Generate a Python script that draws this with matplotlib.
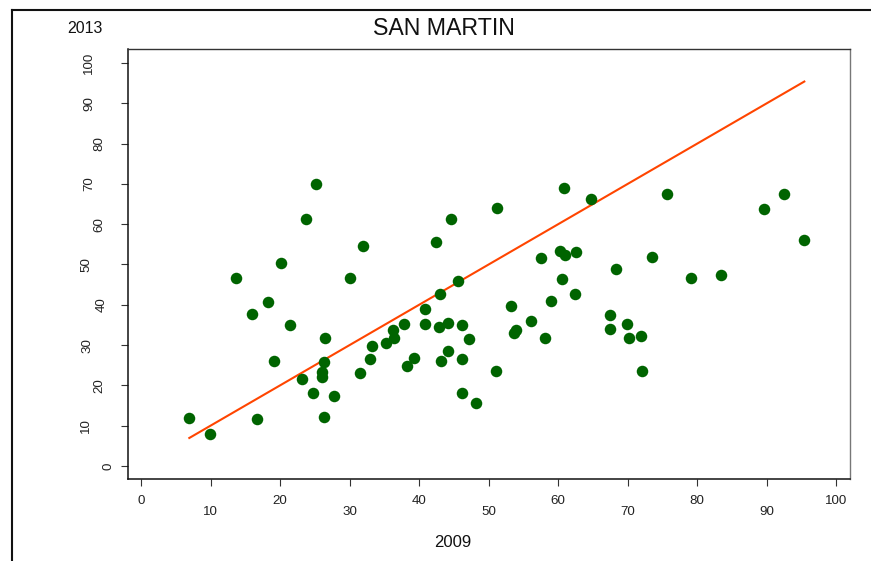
import matplotlib
matplotlib.use("Agg")
import matplotlib.pyplot as plt
from matplotlib.lines import Line2D
import numpy as np

plt.rcParams['font.family'] = ['Liberation Sans', 'DejaVu Sans']

# Data (x = 2009, y = 2013)
x2009 = [6.95, 9.93, 13.67, 15.92, 18.3, 16.7, 19.1, 20.2, 21.5, 23.8,
         25.1, 23.2, 24.8, 26.4, 26.3, 26.0, 26.1, 26.3, 27.7, 30.0,
         32.0, 31.5, 32.9, 33.2, 35.2, 36.3, 36.45, 37.8, 38.2, 39.2,
         40.8, 40.8, 42.5, 43.0, 42.9, 44.2, 43.1, 44.2, 44.6, 45.6,
         46.2, 47.2, 46.2, 46.2, 48.2, 51.2, 51.1, 53.2, 53.6, 53.95,
         56.1, 58.1, 58.95, 57.5, 60.6, 60.3, 60.95, 62.6, 62.4, 60.9,
         64.7, 68.35, 67.5, 67.5, 69.9, 70.2, 71.85, 72.1, 73.5, 75.6,
         79.1, 83.45, 89.6, 92.5, 95.4]
y2013 = [11.9, 7.94, 46.65, 37.8, 40.8, 11.66, 26.1, 50.3, 35.1, 61.3,
         70.0, 21.7, 18.2, 31.8, 25.8, 23.3, 22.2, 12.2, 17.4, 46.65,
         54.6, 23.1, 26.5, 29.7, 30.4, 33.8, 31.8, 35.2, 24.7, 26.8,
         39.0, 35.3, 55.5, 42.8, 34.5, 35.4, 26.1, 28.5, 61.2, 45.8,
         35.1, 31.6, 26.5, 18.1, 15.6, 63.9, 23.6, 39.8, 33.0, 33.7,
         36.1, 31.8, 41.0, 51.7, 46.3, 53.35, 52.3, 53.1, 42.6, 69.0,
         66.25, 48.9, 37.5, 34.0, 35.2, 31.8, 32.3, 23.6, 51.9, 67.4,
         46.65, 47.3, 63.8, 67.6, 56.0]

x_ticks = [0, 10, 20, 30, 40, 50, 60, 70, 80, 90, 100]
y_ticks = [0, 10, 20, 30, 40, 50, 60, 70, 80, 90, 100]
title = "SAN MARTIN"
xlabel = "2009"
ylabel = "2013"

W, H = 871, 561
fig = plt.figure(figsize=(W / 100, H / 100), dpi=100)
ax = fig.add_axes([127.5 / W, (H - 479) / H, (850 - 127.5) / W, (479 - 49.5) / H])

ax.set_xlim(-1.94, 101.97)
ax.set_ylim(-3.23, 103.35)

ax.plot(x2009, y2013, 'o', color='#006400', ms=8.3, mec='none', zorder=3)
lx = np.array([min(x2009), max(x2009)])
ax.plot(lx, lx, color='#FF4500', lw=1.5, zorder=2)

ax.set_xticks(x_ticks)
ax.set_xticklabels([str(t) for t in x_ticks])
ax.set_yticks(y_ticks)
ax.set_yticklabels([str(t) for t in y_ticks], rotation=90, va='center')
ax.tick_params(direction='out', length=5, width=0.8, color='#333333',
               labelsize=9.6, labelcolor='#222222')

for i, t in enumerate(ax.xaxis.get_major_ticks()):
    t.set_pad(6.2 if i % 2 == 0 else 14.7)
ypads = [4.0, 20.5, 11.2, 19.8, 9.0, 20.5, 11.2, 18.4, 11.2, 18.4, 18.4]
for t, p in zip(ax.yaxis.get_major_ticks(), ypads):
    t.set_pad(p)

for s in ['left', 'bottom']:
    ax.spines[s].set_color('#111111')
    ax.spines[s].set_linewidth(1.1)
ax.spines['top'].set_color('#333333')
ax.spines['top'].set_linewidth(1.0)
ax.spines['right'].set_color('#777777')
ax.spines['right'].set_linewidth(1.0)

fig.text(444 / W, 1 - 35 / H, title, ha='center', va='baseline', fontsize=16.7, color='#111111')
fig.text(85 / W, 1 - 33 / H, ylabel, ha='center', va='baseline', fontsize=11.5, color='#111111')
fig.text(453 / W, 1 - 547 / H, xlabel, ha='center', va='baseline', fontsize=12, color='#111111')

# outer frame lines
fig.add_artist(Line2D([12 / W, 1.0], [1 - 10 / H, 1 - 10 / H], transform=fig.transFigure,
                      color='#111111', lw=1.5))
fig.add_artist(Line2D([12 / W, 12 / W], [0.0, 1 - 10 / H], transform=fig.transFigure,
                      color='#111111', lw=1.5))

fig.savefig('out.png', dpi=100)
